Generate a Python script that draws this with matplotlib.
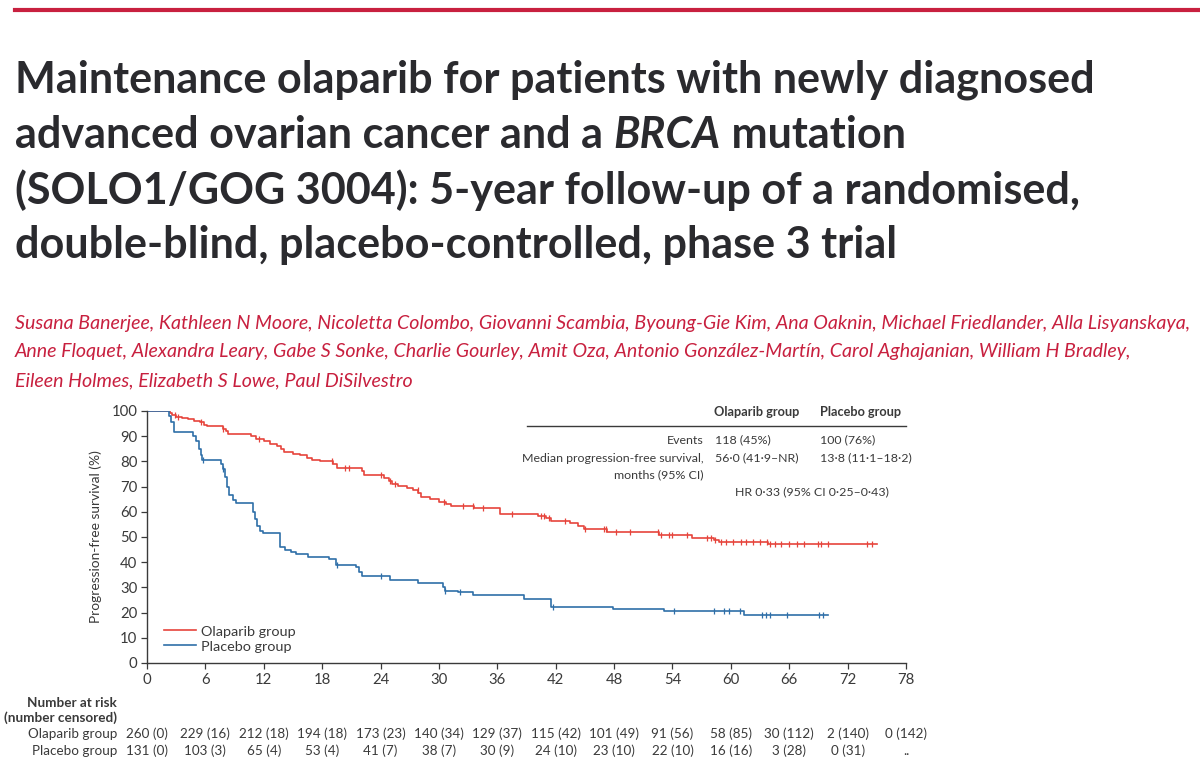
import numpy as np
import matplotlib
matplotlib.use("Agg")
import matplotlib.pyplot as plt
import matplotlib.transforms as mtransforms

# step data (time in months, survival %)
ola_t = [0, 2.4, 2.6, 3.0, 3.6, 4.2, 4.8, 5.4, 5.9, 6.2, 7.8, 8.1, 8.3, 10.7, 11.2, 12.0, 12.6,
         13.4, 13.8, 14.1, 15.0, 15.7, 16.4, 17.0, 17.8, 19.1, 19.5, 22.1, 22.3, 24.4, 24.9,
         25.2, 25.8, 26.7, 27.3, 27.9, 28.2, 29.1, 30.0, 30.7, 31.2, 33.6, 36.3, 40.2, 41.0,
         41.5, 43.5, 44.3, 44.9, 47.3, 52.6, 56.0, 58.3, 58.8, 63.8, 75.0]
ola_s = [100, 99.3, 98.4, 97.8, 97.3, 96.8, 96.2, 95.6, 94.4, 94.0, 93.0, 92.0, 91.0, 90.2, 88.8,
         88.0, 87.0, 86.0, 84.8, 83.6, 83.0, 82.4, 81.5, 80.6, 80.0, 79.0, 77.5, 76.0, 74.6, 73.5,
         72.2, 71.0, 70.2, 69.3, 68.6, 67.3, 66.0, 65.0, 64.0, 63.2, 62.3, 61.4, 59.1, 58.3, 57.4,
         56.3, 55.5, 54.5, 53.2, 52.1, 50.8, 49.5, 48.8, 48.1, 47.3, 47.3]
pla_t = [0, 2.3, 2.5, 2.8, 4.7, 5.0, 5.3, 5.5, 5.7, 7.6, 7.8, 8.0, 8.2, 8.4, 8.8, 9.1, 10.9, 11.1,
         11.3, 11.6, 11.9, 13.7, 14.2, 14.8, 15.3, 16.5, 18.7, 19.4, 21.5, 21.8, 22.1, 25.0, 27.8,
         30.4, 30.6, 32.0, 33.5, 38.7, 41.5, 47.9, 53.1, 61.4, 70.0]
pla_s = [100, 98.0, 95.5, 91.5, 90.0, 88.0, 85.0, 82.5, 80.5, 79.0, 77.0, 74.0, 70.0, 66.5, 64.5,
         63.3, 60.0, 57.0, 54.5, 52.3, 51.5, 46.0, 45.0, 44.0, 43.3, 42.0, 41.3, 39.0, 38.0, 36.0,
         34.7, 32.9, 31.9, 30.3, 28.7, 28.0, 27.0, 25.4, 22.3, 21.4, 20.6, 19.2, 19.2]

# censoring marks (months)
ola_cens = [2.9, 3.2, 5.5, 7.8, 11.5, 19.0, 20.3, 20.8, 24.0, 25.0, 25.5, 27.8, 30.5, 32.5, 33.5,
            34.5, 37.5, 40.5, 40.8, 41.3, 43.0, 45.0, 47.0, 47.2, 48.2, 49.6, 52.5, 52.8, 53.6,
            54.0, 55.5, 57.5, 58.0, 58.4, 59.0, 59.5, 60.2, 61.0, 61.6, 62.3, 63.0, 63.7, 64.0,
            64.5, 65.2, 66.0, 66.8, 67.5, 69.0, 69.3, 70.0, 74.0, 74.5]
pla_cens = [5.8, 7.8, 19.5, 24.0, 30.6, 32.2, 41.7, 54.2, 58.3, 59.3, 59.8, 60.9, 63.2, 63.6,
            64.0, 65.8, 69.1, 69.5]

xticks = list(range(0, 79, 6))
ola_risk = ["260 (0)", "229 (16)", "212 (18)", "194 (18)", "173 (23)", "140 (34)", "129 (37)",
            "115 (42)", "101 (49)", "91 (56)", "58 (85)", "30 (112)", "2 (140)", "0 (142)"]
pla_risk = ["131 (0)", "103 (3)", "65 (4)", "53 (4)", "41 (7)", "38 (7)", "30 (9)", "24 (10)",
            "23 (10)", "22 (10)", "16 (16)", "3 (28)", "0 (31)", ".."]

title_lines = ["Maintenance olaparib for patients with newly diagnosed",
               ["advanced ovarian cancer and a ", "BRCA", " mutation"],
               "(SOLO1/GOG 3004): 5-year follow-up of a randomised,",
               "double-blind, placebo-controlled, phase 3 trial"]
author_lines = ["Susana Banerjee, Kathleen N Moore, Nicoletta Colombo, Giovanni Scambia, Byoung-Gie Kim, Ana Oaknin, Michael Friedlander, Alla Lisyanskaya,",
                "Anne Floquet, Alexandra Leary, Gabe S Sonke, Charlie Gourley, Amit Oza, Antonio González-Martín, Carol Aghajanian, William H Bradley,",
                "Eileen Holmes, Elizabeth S Lowe, Paul DiSilvestro"]

RED = "#e6443c"
BLUE = "#2f6fa8"
GREY = "#3a3a3a"
LANCET = "#c8203f"
TITLE = "#2a2a2e"
FONT = ["Lato", "DejaVu Sans"]

W, H = 1200, 771
fig = plt.figure(figsize=(W / 100, H / 100), dpi=100)
fig.patch.set_facecolor("white")
renderer = fig.canvas.get_renderer()


def fx(x):
    return x / W


def fy(y):
    return 1 - y / H


def fit(txt, width_px):
    # shrink/grow the font so the text spans width_px
    w = txt.get_window_extent(renderer=renderer).width
    txt.set_fontsize(txt.get_fontsize() * width_px / w)
    return txt.get_fontsize()


# top rule
fig.add_artist(plt.Line2D([fx(15), fx(1200)], [fy(10), fy(10)], color=LANCET, lw=3))

t0 = fig.text(fx(15), fy(80), title_lines[0], fontsize=30, fontweight="bold", color=TITLE,
              va="center", ha="left", family=FONT)
tsize = fit(t0, 1077)
for i, line in enumerate(title_lines[1:], 1):
    y = fy(80 + i * 55)
    if isinstance(line, list):
        x = fx(15)
        for j, part in enumerate(line):
            t = fig.text(x, y, part, fontsize=tsize, fontweight="bold", color=TITLE,
                         style="italic" if j == 1 else "normal", va="center", ha="left", family=FONT)
            x += t.get_window_extent(renderer=renderer).width / W
    else:
        fig.text(fx(15), y, line, fontsize=tsize, fontweight="bold", color=TITLE,
                 va="center", ha="left", family=FONT)

a0 = fig.text(fx(15), fy(323), author_lines[0], fontsize=14, style="italic", color=LANCET,
              va="center", ha="left", family=FONT)
asize = fit(a0, 1180)
for i, line in enumerate(author_lines[1:], 1):
    fig.text(fx(15), fy(323 + i * 29), line, fontsize=asize, style="italic", color=LANCET,
             va="center", ha="left", family=FONT)

ax = fig.add_axes([fx(147), fy(663), fx(906) - fx(147), fy(411) - fy(663)])
ax.step(ola_t, ola_s, where="post", color=RED, lw=1.2, label="Olaparib group")
ax.step(pla_t, pla_s, where="post", color=BLUE, lw=1.2, label="Placebo group")


def surv_at(ts, ss, c):
    idx = np.searchsorted(ts, c, side="right") - 1
    return np.array(ss)[idx]


ax.plot(ola_cens, surv_at(ola_t, ola_s, ola_cens), ls="none", marker="|", ms=5, mew=0.9, color=RED)
ax.plot(pla_cens, surv_at(pla_t, pla_s, pla_cens), ls="none", marker="|", ms=5, mew=0.9, color=BLUE)

# summary table, font size fitted on the longest label
m = fig.text(fx(704), fy(458), "Median progression-free survival,", fontsize=10, color=GREY,
             va="center", ha="right", family=FONT)
fs = fit(m, 182)

ax.set_xlim(0, 78)
ax.set_ylim(0, 100)
ax.set_xticks(xticks)
ax.set_yticks(range(0, 101, 10))
for s in ["top", "right"]:
    ax.spines[s].set_visible(False)
for s in ["left", "bottom"]:
    ax.spines[s].set_color(GREY)
    ax.spines[s].set_linewidth(1.0)
ax.tick_params(colors=GREY, labelsize=fs + 1.8, length=4, width=0.9, pad=3)
for lab in ax.get_xticklabels() + ax.get_yticklabels():
    lab.set_family(FONT)
ax.set_ylabel("Progression-free survival (%)", fontsize=fs + 1, color=GREY, family=FONT, labelpad=7)

leg = ax.legend(loc="lower left", bbox_to_anchor=(0.005, -0.01), frameon=False, handlelength=2.2,
                handletextpad=0.4, labelspacing=0.2, prop={"family": FONT, "size": fs + 1.5})
for t in leg.get_texts():
    t.set_color(GREY)

fig.text(fx(714), fy(412), "Olaparib group", fontsize=fs + 0.3, fontweight="bold", color=GREY, va="center", family=FONT)
fig.text(fx(820), fy(412), "Placebo group", fontsize=fs + 0.3, fontweight="bold", color=GREY, va="center", family=FONT)
fig.add_artist(plt.Line2D([fx(527), fx(906)], [fy(426), fy(426)], color=GREY, lw=1.0))
fig.text(fx(704), fy(440), "Events", fontsize=fs, color=GREY, va="center", ha="right", family=FONT)
fig.text(fx(715), fy(440), "118 (45%)", fontsize=fs, color=GREY, va="center", family=FONT)
fig.text(fx(820), fy(440), "100 (76%)", fontsize=fs, color=GREY, va="center", family=FONT)
fig.text(fx(715), fy(458), "56·0 (41·9–NR)", fontsize=fs, color=GREY, va="center", family=FONT)
fig.text(fx(820), fy(458), "13·8 (11·1–18·2)", fontsize=fs, color=GREY, va="center", family=FONT)
fig.text(fx(704), fy(475), "months (95% CI)", fontsize=fs, color=GREY, va="center", ha="right", family=FONT)
fig.text(fx(735), fy(492), "HR 0·33 (95% CI 0·25–0·43)", fontsize=fs, color=GREY, va="center", family=FONT)

# number at risk
rs = fs + 0.8
fig.text(fx(117), fy(703), "Number at risk", fontsize=rs, fontweight="bold", color=GREY, va="center", ha="right", family=FONT)
fig.text(fx(117), fy(718), "(number censored)", fontsize=rs, fontweight="bold", color=GREY, va="center", ha="right", family=FONT)
fig.text(fx(117), fy(734), "Olaparib group", fontsize=rs, color=GREY, va="center", ha="right", family=FONT)
fig.text(fx(117), fy(751), "Placebo group", fontsize=rs, color=GREY, va="center", ha="right", family=FONT)
trans = mtransforms.blended_transform_factory(ax.transData, fig.transFigure)
for xt, a, b in zip(xticks, ola_risk, pla_risk):
    ax.text(xt, fy(734), a, transform=trans, fontsize=rs, color=GREY, ha="center", va="center", family=FONT, clip_on=False)
    ax.text(xt, fy(751), b, transform=trans, fontsize=rs, color=GREY, ha="center", va="center", family=FONT, clip_on=False)

fig.savefig("out.png", dpi=100)
